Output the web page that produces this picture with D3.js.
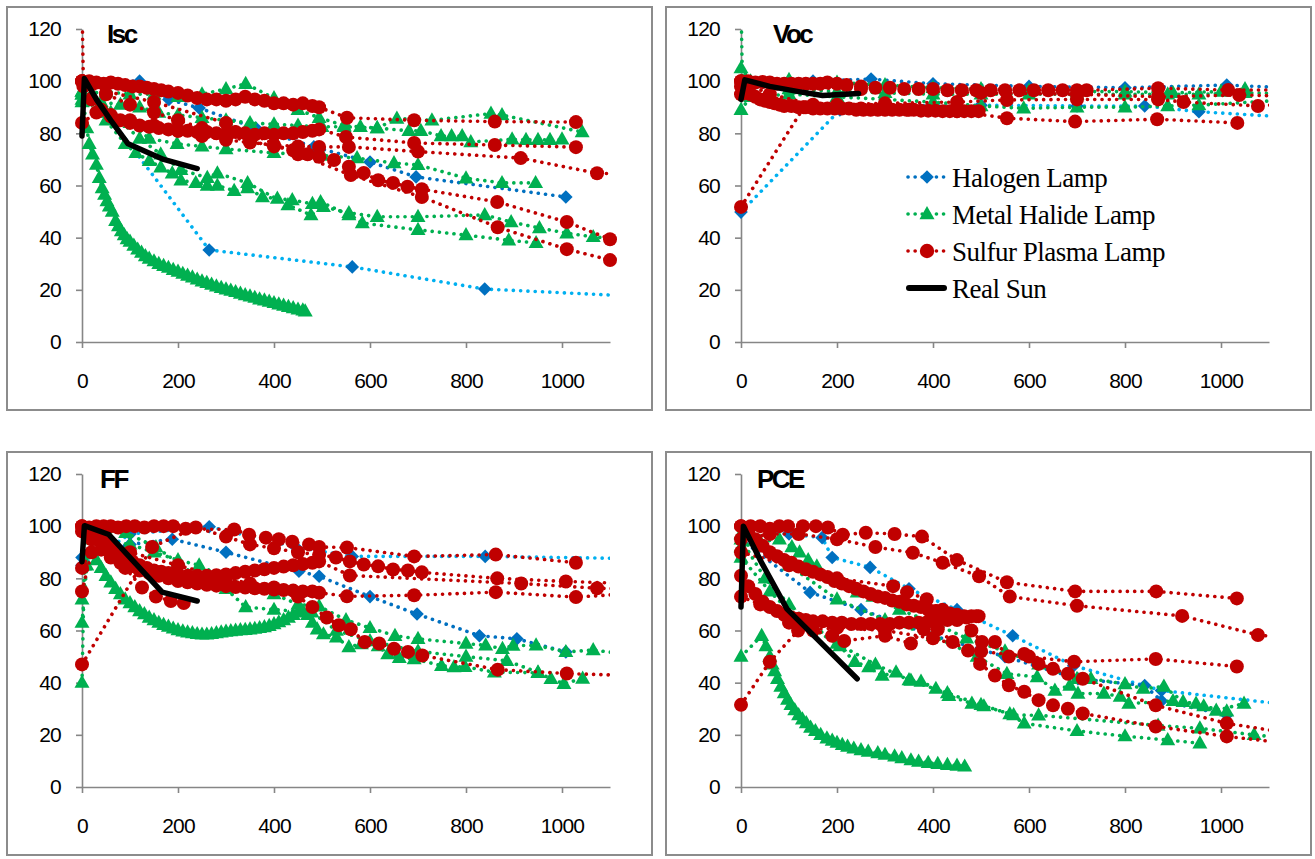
<!DOCTYPE html>
<html>
<head>
<meta charset="utf-8">
<script src="https://cdn.jsdelivr.net/npm/d3@7/dist/d3.min.js"></script>
<style>
body { margin: 0; background: #fff; }
svg text { font-family: "Liberation Sans", Arial, sans-serif; }
</style>
</head>
<body>
<div id="chart"></div>
<script>
// axis ticks and legend names
const xTicks = [0, 200, 400, 600, 800, 1000];
const yTicks = [0, 20, 40, 60, 80, 100, 120];
const lampNames = ["Halogen Lamp", "Metal Halide Lamp", "Sulfur Plasma Lamp", "Real Sun"];

// ---------- Isc ----------
const iscHalogen = [
  [[0,100],[265,35.3],[563,28.8],[839,20.3],[1250,16.7]],
  [[0,100],[120,100],[181,93],[244,89.7],[362,82],[483,74.8],[600,69],[696,63.3],[1008,55.6]]
];
const iscMetal = [
  [[0,96],[10,82],[15,76],[22,72],[30,68],[36,63],[42,59],[47,56.5],[52,54],[57,52],[63,50],[70,46.5],[76,44.5],[82,42.5],[88,41],[94,39.5],[100,38.5],[108,37],[116,35.5],[124,34.3],[132,33],[140,32],[150,31],[160,30],[170,29.2],[180,28.5],[190,27.7],[200,27],[210,26.2],[220,25.5],[230,24.8],[240,24],[250,23.3],[260,22.7],[270,22],[280,21.4],[290,20.8],[300,20.2],[310,19.7],[320,19.2],[330,18.6],[340,18],[350,17.5],[360,17],[370,16.4],[380,16],[390,15.5],[400,15],[410,14.5],[420,14],[430,13.5],[440,13],[450,12.5],[460,12.2],[465,11.8]],
  [[0,95],[50,96],[100,95],[150,95],[200,94],[250,95],[300,97],[341,99],[400,93.5],[450,89],[494,86],[546,83],[580,82.5],[615,82],[656,85.7],[729,85],[852,87.6],[875,87],[1042,80.5]],
  [[0,93],[40,92],[80,91],[120,90],[160,88],[200,87],[250,86],[300,85],[350,84],[400,83.5],[450,83],[500,82.5],[546,82.5],[615,82],[681,81],[706,81],[748,79],[770,79],[792,79],[810,76.7],[896,77.7],[925,77.5],[950,77.5],[975,77.5],[1000,77.7]],
  [[0,92],[50,88],[100,84],[140,78],[198,76],[250,75],[300,74],[400,72.5],[500,71.5],[573,70.5],[650,68.6],[700,67.9],[800,62.8],[875,61],[945,61]],
  [[0,95],[50,85],[90,76],[112,72.5],[140,69.5],[164,67],[188,64.7],[206,62],[237,61],[261,60],[282,60],[317,58],[345,59],[376,55.6],[407,55],[438,54.4],[480,53],[497,53.7],[556,48.7],[584,45.6],[700,43],[800,41],[889,39],[946,38]],
  [[0,96],[60,88],[120,78],[164,72],[206,66],[261,63],[282,64.7],[345,61],[429,52.5],[477,48.7],[503,51.8],[556,49.5],[615,48],[700,48],[839,48.7],[894,46],[953,43.7],[1010,41.7],[1065,40.3],[1200,38.5]]
];
const iscSulfur = [
  [[0,100],[15,100],[30,99.5],[45,99],[60,99.5],[75,99],[90,98.5],[105,98],[120,98],[135,97.5],[150,97],[165,96.5],[180,96],[200,95.5],[220,94.5],[240,93.5],[260,93],[280,93],[300,92.5],[320,93],[340,94],[360,93],[380,92.5],[400,91.5],[420,91.5],[440,91],[460,91.5],[480,90.5],[494,90],[552,86],[692,85],[860,84.5],[1029,84.3]],
  [[0,100],[20,93],[40,89],[60,86.5],[80,85],[100,84],[120,83],[140,82.5],[160,82],[180,81.5],[200,81],[220,81],[240,80.5],[260,80.5],[280,80],[300,80],[320,80.5],[340,80],[360,79.5],[380,80],[400,79.5],[420,80],[440,80],[460,80.5],[480,81],[494,81.5],[550,78.6],[692,76.3],[860,75.5],[1029,74.7]],
  [[0,84],[30,88],[60,87],[100,85],[150,83],[200,81],[250,79],[300,77.5],[350,76.5],[400,75.5],[450,75],[494,74.8],[556,74.8],[700,73],[914,70.5],[1073,64.7],[1200,64]],
  [[0,100],[50,95],[100,91],[150,88],[200,85],[250,82],[300,79],[350,77],[400,75],[440,73.5],[470,72],[494,71],[525,69.8],[556,67.2],[587,64.8],[617,62],[648,61],[678,59.5],[708,58.6],[865,53.7],[1010,46],[1100,39.4]],
  [[0,130],[3,98],[150,92],[300,84],[450,72],[560,64],[708,55.6],[866,44],[1010,35.6],[1100,31.4]]
];
const iscSun = [
  [[0,79],[5,101],[30,93],[60,85],[96,76],[170,70],[240,66.5]]
];

// ---------- Voc ----------
const vocHalogen = [
  [[0,49.8],[206,89],[300,90.5],[500,90.8],[700,90.5],[841,90.5],[954,88.3],[1250,85]],
  [[0,100],[150,100],[271,100.8],[400,99],[600,98],[800,97.5],[1012,98.5],[1250,96.5]]
];
const vocMetal = [
  [[0,130],[3,100],[100,100.5],[200,99.5],[300,98.5],[400,97.5],[500,97],[600,96.5],[700,96],[800,96],[900,95.5],[1000,96],[1050,97]],
  [[0,105],[20,100],[100,97],[200,96],[300,95.5],[400,95],[500,95],[600,95],[700,95],[800,95],[889,95],[954,95],[1050,95.5],[1200,95]],
  [[0,89],[20,94],[100,95],[200,94],[300,93],[400,92],[500,90.5],[589,89.6],[700,90],[800,90],[889,90.5],[954,90.8],[1200,93.5]]
];
const vocSulfur = [
  [[0,51.8],[131,90],[200,91],[300,91.5],[450,92],[554,92.8],[700,93],[869,93],[922,92],[1077,90.5],[1200,92]],
  [[0,100],[15,100],[30,99.5],[45,99.7],[60,99.5],[75,99],[90,99],[105,99],[120,99],[135,99],[150,99],[165,99],[180,99.5],[200,99],[220,98.5],[250,98],[280,97.5],[310,97.5],[340,97],[370,97],[400,97],[430,96.5],[460,96.5],[490,96.5],[520,96.5],[550,96.5],[580,96.5],[610,96.5],[640,96.5],[670,96.5],[700,96.5],[720,96.5],[869,97.3],[1015,96.6],[1200,96.6]],
  [[0,95],[10,97],[20,95],[30,94],[40,93],[50,92.5],[60,92],[70,91.5],[80,91],[90,90.5],[105,90.5],[120,90],[135,90],[150,89.5],[165,89.5],[180,89.5],[195,89.5],[210,89.5],[225,89.5],[240,89],[255,89],[270,89],[285,89],[300,89],[315,89],[330,89],[345,89],[360,89],[375,88.7],[390,88.7],[405,88.7],[420,88.5],[435,88.5],[450,88.5],[465,88.5],[480,88.5],[495,88.5]],
  [[0,100],[60,95],[150,91],[250,89.5],[350,89],[450,88.5],[554,85.8],[696,84.5],[867,85.4],[1034,84]],
  [[0,98],[250,97],[500,95.5],[700,95],[869,94],[1038,94.7],[1200,94]]
];
const vocSun = [
  [[0,93],[8,100.5],[60,98],[120,96],[170,94.5],[245,95.3]]
];

// ---------- FF ----------
const ffHalogen = [
  [[0,85],[100,97],[265,99.8],[445,92],[563,88.4],[840,88.4],[1250,87.3]],
  [[0,88],[100,93],[188,95],[300,90],[452,82.7],[494,80.8],[600,73],[698,66.3],[828,58],[906,56.8],[1008,51.8]]
];
const ffMetal = [
  [[0,63],[10,85],[20,90],[30,87],[40,84],[50,81],[60,78.5],[70,76],[80,74],[90,72],[100,70.5],[110,69],[120,67.5],[130,66.3],[140,65],[150,64],[160,63],[170,62.2],[180,61.5],[190,60.8],[200,60.2],[210,59.7],[220,59.3],[230,59],[240,58.7],[250,58.5],[260,58.5],[270,58.7],[280,59],[290,59.3],[300,59.6],[310,59.8],[320,60],[330,60.2],[340,60.3],[350,60.5],[360,60.7],[370,61],[380,61.3],[390,61.8],[400,62.5],[410,63.2],[420,64],[430,65],[440,66],[450,67],[460,67.5],[470,66],[480,63],[490,60.5],[503,58.6],[530,57.4],[556,53.7],[582,54.8],[617,54],[637,51],[661,49.5],[692,49.1],[749,46.5],[775,46],[798,46.1],[859,44],[950,43.8],[977,41.5],[1004,39.6],[1043,41.6]],
  [[0,72],[20,95],[100,93],[150,90],[200,87],[244,85],[300,80],[350,77],[400,74],[450,70],[494,69.3],[550,64],[600,61],[652,58],[700,56.8],[800,55],[841,54.3],[876,53],[898,54.2],[946,54.3],[1008,51.8],[1065,52.5],[1200,49.5]],
  [[0,40],[5,85],[30,98],[91,97.5],[154,92],[200,86],[244,80],[300,76],[341,69],[400,68],[479,67],[530,60],[600,56],[700,52],[800,50],[885,48.4],[950,44]]
];
const ffSulfur = [
  [[0,98],[15,99.5],[30,100],[45,100],[60,100],[75,99.5],[92,100],[110,100],[130,99.5],[150,100],[170,100],[190,100],[216,99],[317,98.7],[348,96.7],[383,95.6],[410,95],[438,94],[473,93],[494,92],[552,91.8],[692,88.4],[862,89.1],[1029,86]],
  [[0,47],[146,92],[237,99.5],[300,96],[350,93],[400,91.5],[450,90],[494,89],[529,88],[558,86.5],[587,85.3],[617,84.6],[648,83.4],[679,83],[708,82.3],[865,80],[1008,78.8],[1180,77.7]],
  [[0,100],[15,99],[30,96],[45,94],[60,92],[75,90],[91,88],[105,86.5],[120,85],[135,84],[150,83],[165,82.5],[180,82],[200,81.5],[220,81],[240,81],[260,81],[280,81.2],[300,81.5],[320,82],[340,82.5],[360,83],[380,83.5],[400,84],[420,84.5],[440,85],[460,85.5],[480,86],[494,86.5],[558,81.1],[915,78],[1073,76.2],[1180,75.8]],
  [[0,100],[20,95],[40,91],[60,88],[80,86],[100,84.5],[120,83],[140,82],[160,81],[180,80],[200,79],[220,78.5],[240,78],[260,77.5],[280,77.2],[300,77],[320,76.7],[340,76.5],[360,76.2],[380,76],[400,75.7],[420,75.5],[440,75.3],[460,75],[480,75],[494,74.5],[552,73.1],[692,73.5],[862,74.7],[1029,72.8],[1180,74.6]],
  [[0,75],[20,90],[50,93],[100,90],[200,85],[300,80],[350,78],[400,76.5],[450,73],[480,69],[510,65],[535,62],[560,60.5],[589,55.6],[619,55],[650,53],[679,51.8],[709,50.4],[866,45],[1010,43.5],[1180,42.5]],
  [[0,84],[30,95],[60,90],[90,84],[125,76.5],[154,73],[185,71.3],[212,70.5]]
];
const ffSun = [
  [[0,86.4],[5,100.2],[56,96.8],[105,87],[167,74.7],[240,71.3]]
];

// ---------- PCE ----------
const pceHalogen = [
  [[0,100],[100,97],[169,95.6],[190,88],[269,84.2],[350,76],[450,68],[566,58],[693,46.5],[876,37],[1250,29.3]],
  [[0,95],[144,74.6],[250,68],[400,58],[550,50],[702,41.5],[841,38.9],[876,33],[1012,27.6]]
];
const pceMetal = [
  [[0,50],[43,58],[52,54],[60,50],[65,47],[70,44.5],[76,41.5],[83,38.5],[90,36],[97,33.5],[104,31.5],[112,29.5],[120,27.6],[128,26],[136,24.5],[145,22.8],[155,21.5],[166,20],[179,18.7],[190,17.8],[200,17],[211,16.2],[222,15.5],[235,14.8],[250,14.2],[265,13.6],[285,13],[300,12.4],[320,11.8],[335,11.1],[354,10.3],[370,9.8],[390,9.3],[410,8.9],[430,8.5],[450,8.2],[466,7.9]],
  [[0,95],[50,80],[100,70],[150,62],[206,54],[237,48],[266,46],[294,42.7],[323,44],[354,40.8],[375,40.4],[406,37.7],[433,35],[481,32],[506,31],[568,27.6],[620,27.5],[869,23.6],[956,22.5],[1069,20],[1200,17.5]],
  [[0,88],[60,75],[120,64],[200,55],[280,47],[350,41],[430,36],[500,31.5],[560,28],[590,24.4],[700,21.5],[800,19.5],[889,18],[956,16.8]],
  [[0,97],[100,85],[200,72],[300,64],[400,58],[492,50],[554,43.4],[617,42.2],[654,37],[685,38.9],[702,35.8],[756,35.8],[790,34.7],[808,32],[900,33],[948,32],[990,29.3],[1048,32]],
  [[0,92],[40,94],[80,95],[106,92],[122,90],[140,87],[158,84.6],[200,79],[242,74.6],[275,73],[330,68],[400,63],[470,57],[550,52],[620,47],[700,41.5],[729,41.5],[800,39.5],[838,37.7],[881,38.5],[921,32.7],[964,31],[1012,29]]
];
const pceSulfur = [
  [[0,100],[20,100],[40,100],[60,99],[80,100],[98,100],[129,100],[156,100],[181,99.5],[212,96.7],[260,97.5],[320,97],[377,96],[450,87],[554,78.5],[696,75],[865,75],[1033,72.3]],
  [[0,95],[60,97],[120,97],[200,95],[280,92],[358,89.8],[420,86],[496,80.8],[560,73],[700,69.5],[919,65.6],[1077,58.3],[1200,56]],
  [[0,100],[15,98],[30,95],[45,92.5],[60,90],[75,88.5],[90,87],[105,86],[120,84.5],[135,83.5],[150,82.5],[165,81.5],[180,80.5],[195,79],[210,78],[225,77],[240,76],[255,75],[270,74],[285,73],[300,72.5],[315,71.5],[330,71],[345,70],[360,69.5],[375,69],[390,68],[405,67.5],[420,67],[435,66.5],[450,66],[465,65.5],[480,65.5],[495,65.5]],
  [[0,81],[15,77],[30,74],[45,71],[60,69],[75,67.5],[90,66],[105,65],[120,64.5],[135,64],[150,63.5],[170,63.5],[190,63],[210,63],[230,62.5],[250,62.5],[270,62.5],[290,62.5],[310,62.5],[330,63],[350,63],[370,63],[390,63.5],[410,63.5],[430,64],[450,64.5],[470,65],[490,65.5]],
  [[0,90],[100,85],[200,80],[317,77],[346,74.7],[387,72],[420,68],[450,64],[480,60],[502,55.6],[529,55.6],[558,50],[590,51],[620,47.2],[650,45.3],[681,43.4],[712,41.5],[864,31.3],[1012,24.4],[1200,19]],
  [[0,73],[40,70],[100,63],[150,60],[190,58],[215,56],[300,58],[354,55],[381,60.5],[410,60.5],[441,55.6],[473,52.3],[498,47.2],[529,42.7],[558,39],[590,36.5],[620,33.3],[650,31.3],[681,30],[712,28.2],[864,23.2],[1012,19.4],[1200,15.5]],
  [[0,31.5],[60,48],[119,60],[200,61],[300,60],[400,57],[500,52],[600,50],[694,48],[864,49.1],[1033,46.2]]
];
const pceSun = [
  [[0,69],[5,100],[40,87],[96,68.2],[242,41.5]]
];

// ---------- layout ----------
const width = 1315, height = 859;
const panelW = 645, panelH = 403;
const plotLeft = 75, plotTop = 22, plotW = 528, plotH = 313;

const colors = {
  halogenMarker: "#0070C0",
  halogenLine: ["#00B0F0", "#0070C0"],
  metal: "#00B050",
  sulfur: "#C00000",
  sun: "#000000",
  axis: "#868686"
};

const panels = [
  {title: "Isc", tx: 100, left: 7,   top: 7,   halogen: iscHalogen, metal: iscMetal, sulfur: iscSulfur, sun: iscSun, legend: false},
  {title: "Voc", tx: 107, left: 666, top: 7,   halogen: vocHalogen, metal: vocMetal, sulfur: vocSulfur, sun: vocSun, legend: true},
  {title: "FF",  tx: 93,  left: 7,   top: 452, halogen: ffHalogen,  metal: ffMetal,  sulfur: ffSulfur,  sun: ffSun,  legend: false},
  {title: "PCE", tx: 91,  left: 666, top: 452, halogen: pceHalogen, metal: pceMetal, sulfur: pceSulfur, sun: pceSun, legend: false}
];

const svg = d3.select("#chart")
  .append("svg")
  .attr("width", width)
  .attr("height", height);

const x = d3.scaleLinear().domain([0, 1100]).range([0, plotW]);
const y = d3.scaleLinear().domain([0, 120]).range([plotH, 0]);

const line = d3.line().x(d => x(d[0])).y(d => y(d[1]));
const inside = d => d[0] >= 0 && d[0] <= 1100 && d[1] >= 0 && d[1] <= 120;

const diamond = "M0,-6.8L6.8,0L0,6.8L-6.8,0Z";
const triangle = "M0,-8L7.5,5.2L-7.5,5.2Z";

// clip for lines that go off the axes
svg.append("defs").append("clipPath")
  .attr("id", "plotClip")
  .append("rect")
  .attr("x", -8).attr("y", 0)
  .attr("width", plotW + 8).attr("height", plotH + 8);

function drawMarkers(g, pts, kind, color) {
  const sel = g.selectAll(null).data(pts.filter(inside)).enter();
  if (kind === "circle") {
    sel.append("circle")
      .attr("cx", d => x(d[0])).attr("cy", d => y(d[1]))
      .attr("r", 7)
      .attr("fill", color);
  } else {
    sel.append("path")
      .attr("d", kind === "diamond" ? diamond : triangle)
      .attr("transform", d => "translate(" + x(d[0]) + "," + y(d[1]) + ")")
      .attr("fill", color);
  }
}

function dottedLine(g, pts, color) {
  g.append("path")
    .datum(pts)
    .attr("d", line)
    .attr("clip-path", "url(#plotClip)")
    .attr("fill", "none")
    .attr("stroke", color)
    .attr("stroke-width", 3.6)
    .attr("stroke-linecap", "round")
    .attr("stroke-dasharray", "0.1 7.2");
}

panels.forEach(p => {
  const panel = svg.append("g").attr("transform", "translate(" + p.left + "," + p.top + ")");

  panel.append("rect")
    .attr("width", panelW).attr("height", panelH)
    .attr("fill", "#fff")
    .attr("stroke", "#8c8c8c")
    .attr("stroke-width", 2);

  const g = panel.append("g").attr("transform", "translate(" + plotLeft + "," + plotTop + ")");

  // axes
  const yAxis = g.append("g")
    .call(d3.axisLeft(y).tickValues(yTicks).tickSize(6).tickSizeOuter(0).tickPadding(15));
  const xAxis = g.append("g")
    .attr("transform", "translate(0," + plotH + ")")
    .call(d3.axisBottom(x).tickValues(xTicks).tickFormat(d3.format("d"))
      .tickSize(6).tickSizeOuter(0).tickPadding(25));

  [xAxis, yAxis].forEach(a => {
    a.select(".domain").attr("stroke", colors.axis).attr("stroke-width", 1.6);
    a.selectAll(".tick line").attr("stroke", colors.axis).attr("stroke-width", 1.6);
    a.selectAll(".tick text")
      .attr("fill", "#000")
      .style("font-size", "21px")
      .style("letter-spacing", "-0.8px")
      .style("font-family", "'Liberation Sans', Arial, sans-serif");
  });

  // title
  panel.append("text")
    .attr("x", p.tx).attr("y", plotTop + 14)
    .style("font-size", "26px")
    .style("font-weight", "bold")
    .style("letter-spacing", "-2.5px")
    .text(p.title);

  // series: halogen, metal halide, sulfur plasma, sun
  p.halogen.forEach((s, i) => {
    dottedLine(g, s, colors.halogenLine[i % 2]);
    drawMarkers(g, s, "diamond", colors.halogenMarker);
  });
  p.metal.forEach(s => {
    dottedLine(g, s, colors.metal);
    drawMarkers(g, s, "triangle", colors.metal);
  });
  p.sulfur.forEach(s => {
    dottedLine(g, s, colors.sulfur);
    drawMarkers(g, s, "circle", colors.sulfur);
  });
  p.sun.forEach(s => {
    g.append("path")
      .datum(s)
      .attr("d", line)
      .attr("clip-path", "url(#plotClip)")
      .attr("fill", "none")
      .attr("stroke", colors.sun)
      .attr("stroke-width", 5.5)
      .attr("stroke-linejoin", "round")
      .attr("stroke-linecap", "round");
  });

  if (p.legend) {
    const lg = g.append("g").attr("transform", "translate(166,148)");
    const kinds = ["diamond", "triangle", "circle", "sun"];
    const lc = [colors.halogenLine[1], colors.metal, colors.sulfur, colors.sun];
    const mc = [colors.halogenMarker, colors.metal, colors.sulfur, colors.sun];
    lampNames.forEach((name, i) => {
      const row = lg.append("g").attr("transform", "translate(0," + (i * 37) + ")");
      if (kinds[i] === "sun") {
        row.append("line")
          .attr("x1", 2).attr("x2", 37).attr("y1", 0).attr("y2", 0)
          .attr("stroke", "#000").attr("stroke-width", 6).attr("stroke-linecap", "round");
      } else {
        row.append("line")
          .attr("x1", 1).attr("x2", 39).attr("y1", 0).attr("y2", 0)
          .attr("stroke", lc[i]).attr("stroke-width", 3.6)
          .attr("stroke-linecap", "round").attr("stroke-dasharray", "0.1 7");
        if (kinds[i] === "circle") {
          row.append("circle").attr("cx", 20).attr("cy", 0).attr("r", 7.2).attr("fill", mc[i]);
        } else {
          row.append("path")
            .attr("d", kinds[i] === "diamond" ? diamond : triangle)
            .attr("transform", "translate(20,0)")
            .attr("fill", mc[i]);
        }
      }
      row.append("text")
        .attr("x", 45).attr("y", 10)
        .style("font-family", "'Liberation Serif', 'Times New Roman', serif")
        .style("font-size", "27px")
        .style("letter-spacing", "-0.5px")
        .text(name);
    });
  }
});
</script>
</body>
</html>
